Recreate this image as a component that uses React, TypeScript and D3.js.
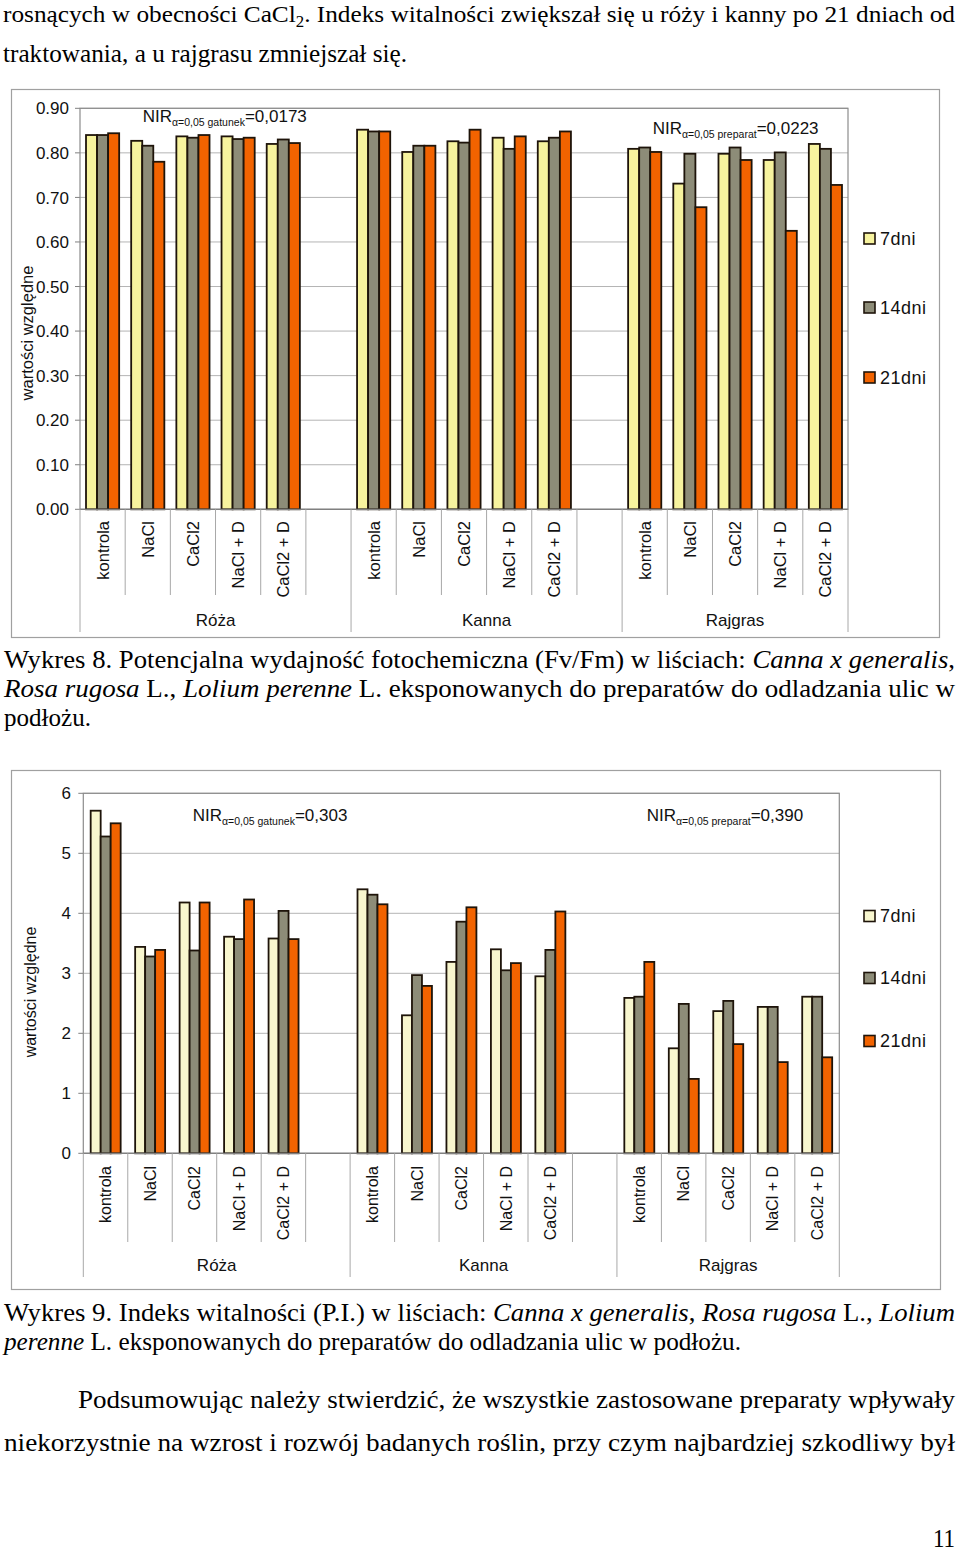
import React from "react";
import * as d3 from "d3";

// categories
const treatments = ["kontrola", "NaCl", "CaCl2", "NaCl + D", "CaCl2 + D"];
const species = ["Róża", "Kanna", "Rajgras"];
const seriesNames = ["7dni", "14dni", "21dni"];

// Wykres 8 - Fv/Fm (Róża x5, Kanna x5, Rajgras x5)
const fvfm7 = [0.840, 0.827, 0.837, 0.837, 0.820, 0.852, 0.802, 0.826, 0.834, 0.826, 0.809, 0.731, 0.798, 0.784, 0.820];
const fvfm14 = [0.840, 0.816, 0.834, 0.831, 0.830, 0.848, 0.816, 0.823, 0.809, 0.834, 0.812, 0.798, 0.812, 0.801, 0.809];
const fvfm21 = [0.844, 0.780, 0.840, 0.834, 0.822, 0.848, 0.816, 0.852, 0.837, 0.848, 0.802, 0.678, 0.784, 0.625, 0.728];

// Wykres 9 - P.I.
const pi7 = [5.71, 3.44, 4.18, 3.61, 3.58, 4.40, 2.30, 3.19, 3.40, 2.95, 2.59, 1.75, 2.37, 2.44, 2.61];
const pi14 = [5.28, 3.28, 3.38, 3.57, 4.04, 4.31, 2.97, 3.86, 3.05, 3.39, 2.61, 2.49, 2.54, 2.44, 2.61];
const pi21 = [5.50, 3.39, 4.18, 4.23, 3.57, 4.15, 2.79, 4.10, 3.17, 4.03, 3.19, 1.24, 1.82, 1.52, 1.60];

type Slot = { key: string; label: string; sp: string; vi: number };

// 17 slots: 5 treatments + a blank spacer between species
const slots: Slot[] = [];
species.forEach((sp, si) => {
  treatments.forEach((t, ti) => slots.push({ key: sp + "|" + t, label: t, sp, vi: si * 5 + ti }));
  if (si < species.length - 1) slots.push({ key: sp + "|_", label: "", sp, vi: -1 });
});

const SANS = "'Liberation Sans', Arial, sans-serif";
const SERIF = "'Liberation Serif', 'Times New Roman', serif";

type Nir = { x: number; y: number; sub: string; val: string };

type ChartProps = {
  frame: [number, number, number, number];
  plot: { left: number; right: number; top: number; bottom: number };
  yMax: number;
  nTicks: number;
  fmt: (v: number) => string;
  values: number[][];
  colors: string[];
  barRange: [number, number];
  tickLabelX: number;
  catLabelTop: number;
  catSepBottom: number;
  groupSepBottom: number;
  groupLabelY: number;
  yTitle: [number, number];
  titleSize: number;
  legendYs: number[];
  nirs: Nir[];
  catSize: number;
};

const Chart: React.FC<ChartProps> = (p) => {
  const { plot } = p;
  const x = d3.scaleBand<string>().domain(slots.map((s) => s.key)).range([plot.left, plot.right]).padding(0);
  const bw = x.bandwidth();
  const x1 = d3
    .scaleBand<string>()
    .domain(seriesNames)
    .range([bw * p.barRange[0], bw * p.barRange[1]])
    .padding(0);
  const y = d3.scaleLinear().domain([0, p.yMax]).range([plot.bottom, plot.top]);
  const ticks = y.ticks(p.nTicks);

  const groupStarts = [0, 6, 12, 17].map((i) => plot.left + i * bw);

  return (
    <g>
      <rect
        x={p.frame[0]}
        y={p.frame[1]}
        width={p.frame[2] - p.frame[0]}
        height={p.frame[3] - p.frame[1]}
        fill="#fff"
        stroke="#a0a0a0"
        strokeWidth={1.2}
      />
      {/* gridlines */}
      {ticks.map((t) => (
        <g key={"g" + t}>
          <line x1={plot.left} x2={plot.right} y1={y(t)} y2={y(t)} stroke="#b4b4b4" strokeWidth={1} />
          <line x1={plot.left - 5} x2={plot.left} y1={y(t)} y2={y(t)} stroke="#808080" strokeWidth={1} />
          <text x={p.tickLabelX} y={y(t)} dy="0.36em" textAnchor="end" fontFamily={SANS} fontSize={17} fill="#111">
            {p.fmt(t)}
          </text>
        </g>
      ))}
      <rect
        x={plot.left}
        y={plot.top}
        width={plot.right - plot.left}
        height={plot.bottom - plot.top}
        fill="none"
        stroke="#8c8c8c"
        strokeWidth={1.2}
      />
      {/* bars */}
      {slots
        .filter((s) => s.vi >= 0)
        .map((s) =>
          seriesNames.map((sn, k) => {
            const v = p.values[k][s.vi];
            return (
              <rect
                key={s.key + sn}
                x={(x(s.key) ?? 0) + (x1(sn) ?? 0)}
                y={y(v)}
                width={x1.bandwidth()}
                height={plot.bottom - y(v)}
                fill={p.colors[k]}
                stroke="#1e140a"
                strokeWidth={1.8}
              />
            );
          })
        )}
      <line x1={plot.left} x2={plot.right} y1={plot.bottom} y2={plot.bottom} stroke="#808080" strokeWidth={1.2} />
      {/* category separators */}
      {d3.range(1, slots.length).map((i) =>
        i % 6 === 0 ? null : (
          <line
            key={"s" + i}
            x1={plot.left + i * bw}
            x2={plot.left + i * bw}
            y1={plot.bottom}
            y2={p.catSepBottom}
            stroke="#a8a8a8"
            strokeWidth={1}
          />
        )
      )}
      {groupStarts.map((gx, i) => (
        <line key={"gs" + i} x1={gx} x2={gx} y1={plot.bottom} y2={p.groupSepBottom} stroke="#a8a8a8" strokeWidth={1} />
      ))}
      {/* category labels */}
      {slots.map((s) =>
        s.label ? (
          <text
            key={"l" + s.key}
            transform={`translate(${(x(s.key) ?? 0) + bw / 2},${p.catLabelTop}) rotate(-90)`}
            dy="0.36em"
            textAnchor="end"
            fontFamily={SANS}
            fontSize={p.catSize}
            fill="#111"
          >
            {s.label}
          </text>
        ) : null
      )}
      {species.map((sp, i) => (
        <text
          key={"sp" + sp}
          x={(groupStarts[i] + Math.min(groupStarts[i + 1], plot.right)) / 2}
          y={p.groupLabelY}
          textAnchor="middle"
          fontFamily={SANS}
          fontSize={17}
          fill="#111"
        >
          {sp}
        </text>
      ))}
      {/* y title */}
      <text
        transform={`translate(${p.yTitle[0]},${p.yTitle[1]}) rotate(-90)`}
        textAnchor="middle"
        dy="0.36em"
        fontFamily={SANS}
        fontSize={p.titleSize}
        fill="#111"
      >
        wartości względne
      </text>
      {/* NIR annotations */}
      {p.nirs.map((n, i) => (
        <text key={"n" + i} x={n.x} y={n.y} fontFamily={SANS} fontSize={17} fill="#111">
          NIR
          <tspan fontSize={10.5} dy={4}>
            {n.sub}
          </tspan>
          <tspan fontSize={17} dy={-4}>
            {n.val}
          </tspan>
        </text>
      ))}
      {/* legend */}
      {seriesNames.map((sn, k) => (
        <g key={"lg" + sn}>
          <rect x={864} y={p.legendYs[k] - 5.5} width={11} height={11} fill={p.colors[k]} stroke="#1e140a" strokeWidth={1.6} />
          <text x={880} y={p.legendYs[k]} dy="0.36em" fontFamily={SANS} fontSize={18} letterSpacing={0.5} fill="#111">
            {sn}
          </text>
        </g>
      ))}
    </g>
  );
};

type LineProps = { x: number; y: number; w: number; size?: number; children: React.ReactNode };
const Line: React.FC<LineProps> = ({ x, y, w, size = 25, children }) => (
  <text x={x} y={y} textLength={w} lengthAdjust="spacingAndGlyphs" fontFamily={SERIF} fontSize={size} fill="#000">
    {children}
  </text>
);

export default function App() {
  return (
    <svg width={960} height={1553} style={{ position: "absolute", left: 0, top: 0, display: "block", background: "#fff" }}>
      <rect x={0} y={0} width={960} height={1553} fill="#fff" />
      <Line x={3} y={22} w={952} size={24}>
        rosnących w obecności CaCl
        <tspan fontSize={16} dy={5}>
          2
        </tspan>
        <tspan dy={-5}>. Indeks witalności zwiększał się u róży i kanny po 21 dniach od</tspan>
      </Line>
      <Line x={3} y={62} w={404}>
        traktowania, a u rajgrasu zmniejszał się.
      </Line>

      <Chart
        frame={[11.5, 89.5, 939.5, 637.5]}
        plot={{ left: 80, right: 848, top: 108.3, bottom: 509.3 }}
        yMax={0.9}
        nTicks={9}
        fmt={(v) => v.toFixed(2)}
        values={[fvfm7, fvfm14, fvfm21]}
        colors={["#F7F39E", "#8D8C78", "#F26300"]}
        barRange={[0.133, 0.867]}
        tickLabelX={69}
        catLabelTop={521}
        catSepBottom={595}
        groupSepBottom={632}
        groupLabelY={626}
        yTitle={[27, 333]}
        titleSize={16.5}
        legendYs={[238.5, 307.5, 377.5]}
        nirs={[
          { x: 142.7, y: 122, sub: "α=0,05 gatunek", val: "=0,0173" },
          { x: 652.7, y: 133.5, sub: "α=0,05 preparat", val: "=0,0223" },
        ]}
        catSize={16.5}
      />

      <Line x={4} y={668} w={951}>
        Wykres 8. Potencjalna wydajność fotochemiczna (Fv/Fm) w liściach: <tspan fontStyle="italic">Canna x generalis</tspan>,
      </Line>
      <Line x={4} y={697} w={951}>
        <tspan fontStyle="italic">Rosa rugosa</tspan> L., <tspan fontStyle="italic">Lolium perenne</tspan> L. eksponowanych do
        preparatów do odladzania ulic w
      </Line>
      <Line x={4} y={726} w={87}>
        podłożu.
      </Line>

      <Chart
        frame={[11.5, 770.5, 940.5, 1289.5]}
        plot={{ left: 83.3, right: 839.3, top: 793.3, bottom: 1153.3 }}
        yMax={6}
        nTicks={6}
        fmt={(v) => String(v)}
        values={[pi7, pi14, pi21]}
        colors={["#F8F6CE", "#8D8C78", "#F26300"]}
        barRange={[0.166, 0.84]}
        tickLabelX={71}
        catLabelTop={1166}
        catSepBottom={1242}
        groupSepBottom={1277}
        groupLabelY={1271}
        yTitle={[30, 992]}
        titleSize={16}
        legendYs={[916, 978, 1041]}
        nirs={[
          { x: 192.7, y: 820.5, sub: "α=0,05 gatunek", val: "=0,303" },
          { x: 646.7, y: 820.5, sub: "α=0,05 preparat", val: "=0,390" },
        ]}
        catSize={16}
      />

      <Line x={4} y={1321} w={951}>
        Wykres 9. Indeks witalności (P.I.) w liściach: <tspan fontStyle="italic">Canna x generalis</tspan>,{" "}
        <tspan fontStyle="italic">Rosa rugosa</tspan> L., <tspan fontStyle="italic">Lolium</tspan>
      </Line>
      <Line x={4} y={1350} w={737}>
        <tspan fontStyle="italic">perenne</tspan> L. eksponowanych do preparatów do odladzania ulic w podłożu.
      </Line>

      <Line x={78} y={1408} w={877}>
        Podsumowując należy stwierdzić, że wszystkie zastosowane preparaty wpływały
      </Line>
      <Line x={4} y={1451} w={951}>
        niekorzystnie na wzrost i rozwój badanych roślin, przy czym najbardziej szkodliwy był
      </Line>
      <Line x={933} y={1547} w={22}>
        11
      </Line>
    </svg>
  );
}
